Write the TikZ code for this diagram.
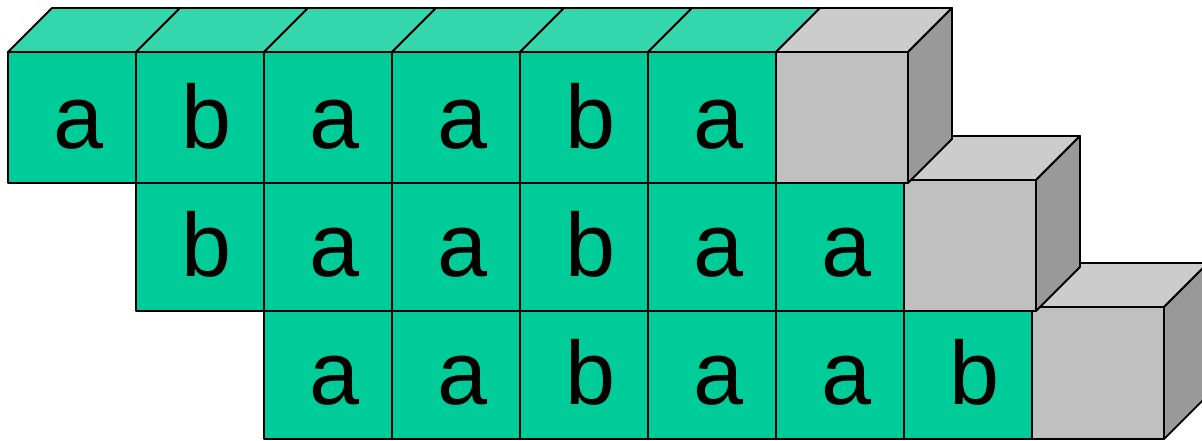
\documentclass[tikz,border=0pt]{standalone}
\usepackage{fontspec}
\setmainfont{Liberation Sans}
\definecolor{gfront}{RGB}{0,204,153}
\definecolor{gtop}{RGB}{51,214,173}
\definecolor{sfront}{RGB}{192,192,192}
\definecolor{stop}{RGB}{204,204,204}
\definecolor{sside}{RGB}{153,153,153}
\begin{document}
\begin{tikzpicture}[x=1pt,y=-1pt,
  face/.style={draw=black,line width=1.8pt,line join=round},
  lbl/.style={anchor=base,font=\fontsize{90}{100}\selectfont,inner sep=0pt}]
\useasboundingbox (0,0) rectangle (1202,440);
\clip (0,0) rectangle (1202,440);
% ---- row 3 ----
\foreach \i/\t in {0/a,1/a,2/b,3/a,4/a,5/b} {
  \draw[face,fill=gfront] (264+128*\i,311) rectangle ++(128,128);
  \node[lbl] (r3c\i) at (264+128*\i+71,404) {\t};
}
\draw[face,fill=stop] (1032,307) -- (1164,307) -- (1208,263) -- (1076,263) -- cycle;
\draw[face,fill=sside] (1164,307) -- (1208,263) -- (1208,395) -- (1164,439) -- cycle;
\draw[face,fill=sfront] (1032,307) rectangle (1164,439);
% ---- row 2 ----
\foreach \i/\t in {0/b,1/a,2/a,3/b,4/a,5/a} {
  \draw[face,fill=gfront] (136+128*\i,183) rectangle ++(128,128);
  \node[lbl] (r2c\i) at (136+128*\i+71,276) {\t};
}
\draw[face,fill=stop] (904,180) -- (1036,180) -- (1080,136) -- (948,136) -- cycle;
\draw[face,fill=sside] (1036,180) -- (1080,136) -- (1080,267) -- (1036,311) -- cycle;
\draw[face,fill=sfront] (904,180) rectangle (1036,311);
% ---- row 1 ----
\foreach \i in {0,...,5} {
  \draw[face,fill=gtop] (8+128*\i,52) -- (136+128*\i,52) -- (180+128*\i,8) -- (52+128*\i,8) -- cycle;
}
\foreach \i/\t in {0/a,1/b,2/a,3/a,4/b,5/a} {
  \draw[face,fill=gfront] (8+128*\i,52) rectangle ++(128,131);
  \node[lbl] (r1c\i) at (8+128*\i+71,148) {\t};
}
\draw[face,fill=stop] (776,52) -- (908,52) -- (952,8) -- (820,8) -- cycle;
\draw[face,fill=sside] (908,52) -- (952,8) -- (952,139) -- (908,183) -- cycle;
\draw[face,fill=sfront] (776,52) rectangle (908,183);
\end{tikzpicture}
\end{document}
